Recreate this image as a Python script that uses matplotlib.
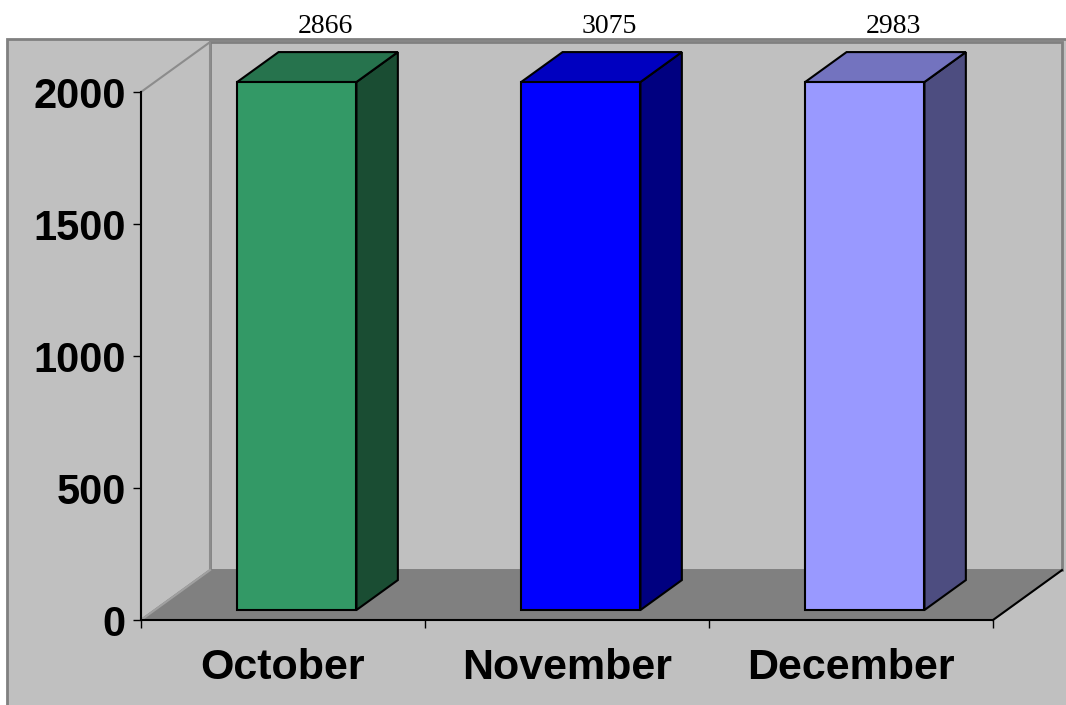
import matplotlib.pyplot as plt
from matplotlib.patches import Polygon, Rectangle

months = ["October", "November", "December"]
totals = [2866, 3075, 2983]
y_ticks = [0, 500, 1000, 1500, 2000]

front_colors = ["#339966", "#0000FF", "#9999FF"]
top_colors = ["#26734D", "#0000C0", "#7373BF"]
side_colors = ["#1A4D33", "#000080", "#4D4D80"]

YMAX = 2000
DX = 0.243      # depth of the 3d box in category units
DY = 189.0      # depth of the 3d box in value units
W = 0.42        # bar width
F0, F1 = 0.2, 0.8   # bar front/back depth fractions

fig = plt.figure(figsize=(10.66, 7.05), dpi=100, facecolor="white")

# chart area (runs off the right and bottom edges)
fig.patches.append(Rectangle((7 / 1066, -0.05), 1.1, 666 / 705 + 0.05,
                             transform=fig.transFigure, facecolor="#C0C0C0",
                             edgecolor="#808080", linewidth=2, zorder=-5))

ax = fig.add_axes([141 / 1066, 85 / 705, 852 / 1066, 528 / 705])
ax.set_zorder(1)
ax.set_facecolor("none")
ax.set_xlim(0, len(months))
ax.set_ylim(0, YMAX)

n = len(months)

# back wall
ax.add_patch(Polygon([(DX, DY), (n + DX, DY), (n + DX, YMAX + DY), (DX, YMAX + DY)],
                     closed=True, facecolor="#C0C0C0", edgecolor="#808080",
                     linewidth=2, clip_on=False, zorder=1))
# left side wall
ax.add_patch(Polygon([(0, 0), (DX, DY), (DX, YMAX + DY), (0, YMAX)],
                     closed=True, facecolor="#C0C0C0", edgecolor="#8C8C8C",
                     linewidth=1.5, clip_on=False, zorder=1))
# floor
ax.add_patch(Polygon([(0, 0), (n, 0), (n + DX, DY), (DX, DY)],
                     closed=True, facecolor="#808080", edgecolor="#808080",
                     linewidth=1, clip_on=False, zorder=2))
ax.plot([n, n + DX], [0, DY], color="black", linewidth=1.5, clip_on=False, zorder=2)
ax.plot([0, DX], [0, DY], color="#A0A0A0", linewidth=1.5, clip_on=False, zorder=2)

# bars (clipped at the axis maximum)
for i, v in enumerate(totals):
    h = min(v, YMAX)
    x0 = i + 0.5 - W / 2
    x1 = i + 0.5 + W / 2
    a, b = F0 * DX, F0 * DY
    c, d = F1 * DX, F1 * DY
    front = [(x0 + a, b), (x1 + a, b), (x1 + a, h + b), (x0 + a, h + b)]
    top = [(x0 + a, h + b), (x1 + a, h + b), (x1 + c, h + d), (x0 + c, h + d)]
    side = [(x1 + a, b), (x1 + c, d), (x1 + c, h + d), (x1 + a, h + b)]
    for pts, col in [(side, side_colors[i]), (top, top_colors[i]), (front, front_colors[i])]:
        ax.add_patch(Polygon(pts, closed=True, facecolor=col, edgecolor="black",
                             linewidth=1.5, joinstyle="miter", clip_on=False, zorder=3))
    ax.text(i + 0.5 + 0.15, 2223, str(v), ha="center", va="baseline",
            fontsize=20, family="Liberation Serif", clip_on=False)

# axes
for s in ["top", "right"]:
    ax.spines[s].set_visible(False)
for s in ["left", "bottom"]:
    ax.spines[s].set_color("black")
    ax.spines[s].set_linewidth(1.5)
    ax.spines[s].set_zorder(4)

ax.set_yticks(y_ticks)
ax.set_yticklabels([str(t) for t in y_ticks], fontsize=30, fontweight="bold",
                   family="Liberation Sans")
ax.tick_params(axis="y", direction="out", length=6, width=1, pad=5)

ax.set_xticks(range(n + 1))
ax.set_xticklabels([])
ax.tick_params(axis="x", which="major", direction="out", length=6, width=1)
ax.set_xticks([i + 0.5 for i in range(n)], minor=True)
ax.set_xticklabels(months, minor=True, fontsize=31, fontweight="bold",
                   family="Liberation Sans")
ax.tick_params(axis="x", which="minor", length=0, pad=20)

fig.savefig("out.png", dpi=100, facecolor="white")
